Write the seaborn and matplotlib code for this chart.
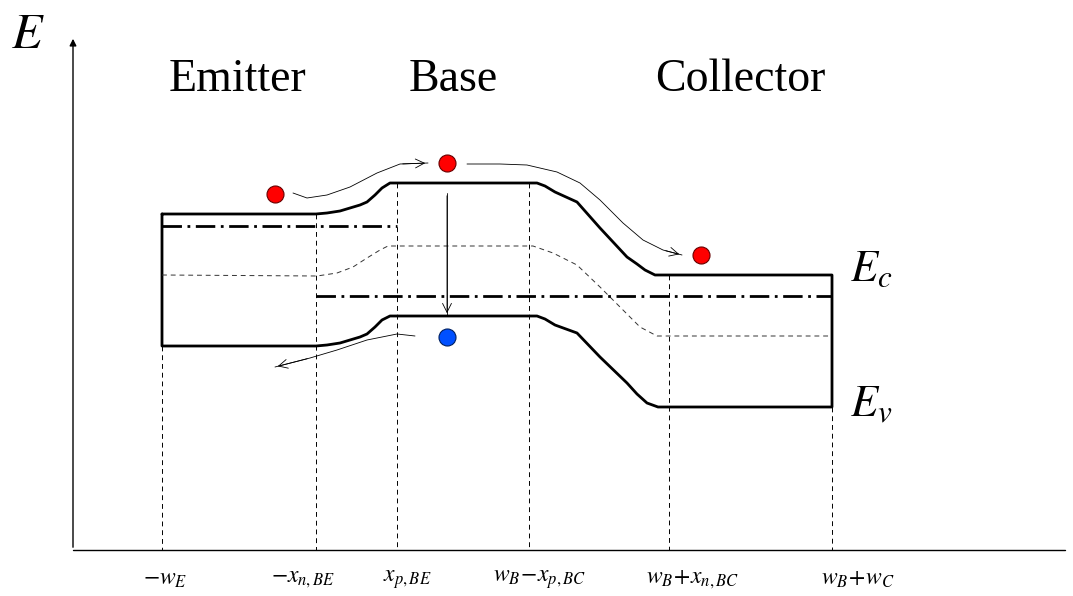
"""
Energy band diagram of a bipolar junction transistor (emitter / base / collector)
"""

import numpy as np
import pandas as pd
import matplotlib.pyplot as plt
import seaborn as sns

sns.set_style("white")
plt.rcParams['font.family'] = ['Liberation Serif', 'DejaVu Serif']
plt.rcParams['mathtext.fontset'] = 'stix'
plt.rcParams['text.color'] = 'black'

# Drawing units are pixels of the 1073x596 figure, energy axis pointing down
# Conduction band edge E_c
ec_x = [162, 316, 327, 340, 350, 360, 367, 375, 382, 390, 537, 545, 555, 577, 600, 627, 637, 645, 655, 832]
ec_y = [214, 214, 213, 211, 208, 205, 202, 195, 188, 183, 183, 186, 192, 202, 228, 257, 264, 270, 275, 275]
# Valence band edge E_v
ev_x = [162, 316, 327, 340, 350, 360, 367, 375, 382, 390, 537, 545, 555, 577, 600, 627, 637, 647, 658, 832]
ev_y = [346, 346, 345, 343, 340, 337, 334, 327, 320, 316, 316, 319, 325, 333, 357, 383, 394, 403, 407, 407]
# Intrinsic level (thin dashed)
ei_x = [162, 317, 337, 353, 367, 380, 388, 533, 553, 577, 600, 620, 640, 657, 832]
ei_y = [275, 276, 273, 267, 258, 250, 246, 246, 253, 265, 287, 307, 327, 336, 336]
# Fermi levels (dash-dot)
fe_x, fe_y = [162, 397], [226, 226]
fb_x, fb_y = [316, 832], [296, 296]

# Region boundaries and their labels
bound_x = [162, 316, 397, 529, 669, 832]
bound_top = [346, 214, 183, 183, 275, 407]
axis_y = 550
bound_labels = [r'$-w_E$', r'$-x_{n,BE}$', r'$x_{p,BE}$',
                r'$w_B\!-\!x_{p,BC}$', r'$w_B\!+\!x_{n,BC}$', r'$w_B\!+\!w_C$']
label_x = [165, 303, 407, 540, 693, 858]

regions = ['Emitter', 'Base', 'Collector']
region_x = [237, 453, 740]

# Carriers
elec_x, elec_y = [275, 447, 701], [194, 163, 255]
hole_x, hole_y = [447], [337]

# Carrier flow paths
arrow_paths = [
    ([293, 307, 327, 350, 377, 400, 428], [193, 198, 195, 187, 173, 164, 163]),
    ([467, 500, 527, 557, 580, 600, 623, 643, 663, 682], [164, 164, 165, 172, 183, 200, 223, 240, 250, 255]),
    ([447, 447], [193, 316]),
    ([415, 397, 367, 337, 310, 275], [336, 334, 340, 350, 358, 367]),
]

band = pd.DataFrame({
    'x': ec_x + ev_x[::-1] + [ec_x[0]],
    'E': ec_y + ev_y[::-1] + [ec_y[0]],
})

fig = plt.figure(figsize=(10.73, 5.96), dpi=100)
ax = fig.add_axes([0, 0, 1, 1])
ax.set_xlim(0, 1073)
ax.set_ylim(596, 0)
ax.axis('off')

# axes of the diagram
ax.plot([73, 1065], [axis_y, axis_y], color='black', lw=1)
ax.annotate('', xy=(73, 36), xytext=(73, axis_y),
            arrowprops=dict(arrowstyle='-|>', color='black', lw=1, mutation_scale=10))

# boundary drop lines
for x, top in zip(bound_x, bound_top):
    ax.plot([x, x], [top, axis_y], color='black', lw=0.7, ls=(0, (5, 4)))

# bands
sns.lineplot(data=band, x='x', y='E', sort=False, estimator=None,
             color='black', lw=2.0, ax=ax)
sns.lineplot(x=ei_x, y=ei_y, sort=False, estimator=None, color='#333333',
             lw=0.7, ls=(0, (5, 4)), ax=ax)
for fx, fy in [(fe_x, fe_y), (fb_x, fb_y)]:
    ax.plot(fx, fy, color='black', lw=2.0, ls=(0, (7, 2, 1, 2)))

# flow arrows
for px, py in arrow_paths:
    ax.plot(px, py, color='black', lw=0.6)
    ax.annotate('', xy=(px[-1], py[-1]), xytext=(px[-2], py[-2]),
                arrowprops=dict(arrowstyle='->', color='black', lw=0.6,
                                mutation_scale=16))

# carriers
sns.scatterplot(x=elec_x, y=elec_y, s=150, color='#ff0000',
                edgecolor='#660000', linewidth=0.8, ax=ax, zorder=5)
sns.scatterplot(x=hole_x, y=hole_y, s=150, color='#0050ff',
                edgecolor='#002060', linewidth=0.8, ax=ax, zorder=5)

# texts
for name, x in zip(regions, region_x):
    ax.text(x, 80, name, fontsize=33, ha='center', va='center')
for lab, x in zip(bound_labels, label_x):
    ax.text(x, 580, lab, fontsize=17, ha='center', va='center')
ax.text(28, 36, r'$E$', fontsize=36, ha='center', va='center')
ax.text(850, 270, r'$E_c$', fontsize=32, ha='left', va='center')
ax.text(850, 405, r'$E_v$', fontsize=32, ha='left', va='center')

plt.savefig('out.png', dpi=100)
plt.close()
